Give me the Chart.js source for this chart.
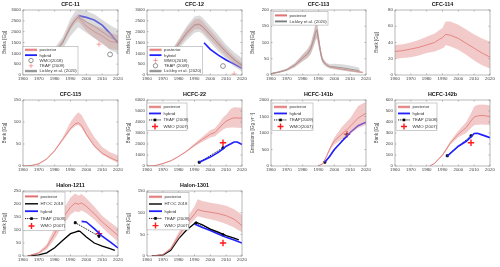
<!DOCTYPE html>
<html><head><meta charset="utf-8">
<script src="https://cdn.jsdelivr.net/npm/chart.js@4/dist/chart.umd.min.js"></script>
<style>html,body{margin:0;padding:0;background:#fff;width:500px;height:267px;overflow:hidden}canvas{position:absolute}</style>
</head><body>
<script>
// ---------------- DATA ----------------
const xTickStart = 1960, xTickEnd = 2020, xTickStep = 10;

// CFC-11
const cfc11Years = [1960,1965,1970,1975,1980,1985,1990,1993,1995,2000,2005,2010,2015,2020];
const cfc11Post  = [80,250,480,750,1050,1500,2250,2550,2650,2250,2000,1800,1550,1500];
const cfc11PostLo= [60,210,420,670,950,1380,2100,2400,2480,2030,1720,1450,1200,1150];
const cfc11PostHi= [100,290,540,830,1150,1620,2400,2700,2820,2480,2300,2150,1950,1850];
const cfc11Lick  = [80,240,470,740,1050,1480,2200,2550,2680,2450,2250,2000,1750,1550];
const cfc11LickLo= [50,180,380,600,850,1200,1800,2050,2200,1950,1700,1450,1150,1000];
const cfc11LickHi= [110,300,560,880,1250,1750,2600,2950,3000,2950,2800,2550,2300,2100];
const cfc11HybYears = [1995,2000,2005,2010,2015,2020];
const cfc11Hyb      = [2740,2660,2540,2300,1920,1490];
const cfc11WmoYear = [2015], cfc11Wmo = [950];
const cfc11TeapYear = [2008], cfc11Teap = [1420];

// CFC-12
const cfc12Years = [1960,1965,1970,1975,1980,1985,1990,1993,1995,2000,2005,2010,2015,2020];
const cfc12Post  = [60,220,520,950,1450,1950,2330,2350,2250,1850,1450,1050,700,420];
const cfc12PostLo= [40,180,450,850,1300,1750,2100,2120,2020,1630,1250,870,540,280];
const cfc12PostHi= [80,260,590,1050,1600,2150,2560,2600,2480,2070,1650,1230,860,560];
const cfc12Lick  = [60,210,500,920,1420,1920,2300,2330,2230,1850,1450,1060,720,450];
const cfc12LickLo= [30,150,400,780,1200,1600,1950,2000,1900,1500,1100,750,400,150];
const cfc12LickHi= [90,280,620,1080,1650,2250,2700,2750,2650,2250,1850,1400,1050,780];
const cfc12HybYears = [1996,2000,2005,2010,2015,2020];
const cfc12Hyb      = [1490,1185,920,690,510,310];
const cfc12WmoYear = [2015], cfc12Wmo = [45];
const cfc12TeapYear = [2008], cfc12Teap = [415];

// CFC-113
const cfc113Years = [1960,1965,1970,1975,1980,1983,1985,1987,1988,1989,1990,1991,1992,1993,1995,1997,2000,2005,2010,2015,2018];
const cfc113Post  = [4,9,16,30,52,64,78,108,128,138,110,80,55,43,32,25,22,18,14,10,8];
const cfc113PostLo= [3,7,13,25,43,53,65,90,107,115,92,68,47,37,28,22,19,15,11,8,6];
const cfc113PostHi= [5,11,19,36,62,77,93,128,152,160,130,95,65,50,37,29,26,21,17,13,10];
const cfc113LickYears = [1960,1965,1970,1975,1980,1983,1985,1987,1988,1989,1990,1991,1992,1993,1995,1997,2000,2005,2010,2015,2016];
const cfc113Lick  = [4,9,16,30,53,65,80,110,130,140,108,78,52,40,30,26,25,22,18,14,12];
const cfc113LickLo= [2,6,12,24,42,52,63,88,104,112,86,62,42,32,24,20,17,14,10,7,6];
const cfc113LickHi= [6,12,20,37,64,80,98,134,158,168,130,95,64,49,38,34,35,33,29,24,20];

// CFC-114
const cfc114Years = [1960,1965,1970,1975,1980,1985,1988,1990,1991,1992,1995,2000,2005,2010,2015,2020];
const cfc114Post  = [29,30,32,34,37,40,44,46,48,50,49,45,39,33,27,22];
const cfc114PostLo= [20,21,22,24,27,29,31,33,34,37,35,31,25,18,12,8];
const cfc114PostHi= [37,38,40,43,47,51,55,58,62,66,66,62,56,50,45,41];

// CFC-115
const cfc115Years = [1960,1965,1970,1975,1980,1985,1990,1993,1995,1997,2000,2005,2010,2015,2020];
const cfc115Post  = [0,1,5,16,35,60,85,96,98,92,72,46,29,19,11];
const cfc115PostLo= [0,1,4,15,33,57,81,91,93,87,68,43,26,16,7];
const cfc115PostHi= [0,1,6,17,37,64,100,115,122,116,96,66,43,31,24];

// HCFC-22
const hcfc22Years = [1960,1965,1970,1975,1980,1985,1990,1995,2000,2003,2005,2008,2010,2013,2015,2020];
const hcfc22Post  = [0,30,220,470,870,1340,1900,2420,2890,3050,3360,3820,4070,4290,4380,4350];
const hcfc22PostLo= [0,25,200,440,820,1270,1770,2200,2600,2700,2950,3300,3450,3500,3500,3450];
const hcfc22PostHi= [0,35,240,500,920,1410,2040,2650,3250,3450,3800,4400,4650,5200,5350,5300];
const hcfc22HybYears = [1993,1995,2000,2005,2008,2010,2013,2015,2017,2020];
const hcfc22Hyb      = [340,470,810,1240,1550,1800,2020,2180,2180,1960];
const hcfc22TeapYears = [1993,2008], hcfc22Teap = [340,1650];
const hcfc22WmoYear = [2008], hcfc22Wmo = [2110];

// HCFC-141b
const hcfc141bYears = [1990,1993,1995,1998,2000,2005,2008,2010,2015,2020];
const hcfc141bPost  = [0,80,290,600,760,980,1100,1200,1450,1600];
const hcfc141bPostLo= [0,70,260,540,650,820,920,980,1150,1250];
const hcfc141bPostHi= [0,90,320,660,860,1200,1350,1450,1820,1950];
const hcfc141bHybYears = [1994,1997,2000,2005,2008,2010,2015,2020];
const hcfc141bHyb      = [115,290,500,760,910,1015,1220,1330];
const hcfc141bTeapYears = [1994,2008], hcfc141bTeap = [115,960];
const hcfc141bWmoYear = [2008], hcfc141bWmo = [960];

// HCFC-142b
const hcfc142bYears = [1982,1985,1990,1993,1995,2000,2005,2008,2010,2012,2015,2020];
const hcfc142bPost  = [0,25,100,165,210,290,350,410,445,455,460,450];
const hcfc142bPostLo= [0,22,92,150,195,262,300,345,370,375,378,372];
const hcfc142bPostHi= [0,28,108,180,228,320,400,480,540,555,558,552];
const hcfc142bHybYears = [1993,2000,2005,2008,2010,2012,2015,2020];
const hcfc142bHyb      = [90,180,225,265,295,298,283,258];
const hcfc142bTeapYears = [1993,2008], hcfc142bTeap = [93,274];
const hcfc142bWmoYear = [2008], hcfc142bWmo = [211];

// Halon-1211
const h1211Years = [1963,1970,1975,1980,1985,1990,1993,1995,1997,2000,2005,2010,2015,2020];
const h1211Post  = [0,12,35,86,144,188,204,199,204,191,163,131,105,79];
const h1211PostLo= [0,8,25,65,115,160,172,168,175,165,140,110,82,55];
const h1211PostHi= [0,16,45,110,175,225,240,232,238,222,190,155,130,108];
const h1211HtocYears = [1963,1970,1975,1980,1985,1990,1993,1995,1996,2000,2005,2010,2015,2018];
const h1211Htoc      = [0,4,12,32,60,86,92,96,95,73,50,38,28,22];
const h1211HybYears = [1997,2000,2005,2008,2010,2015,2020];
const h1211Hyb      = [133,131,105,88,76,54,31];
const h1211TeapYears = [1993,2008], h1211Teap = [128,76];
const h1211WmoYear = [2008], h1211Wmo = [86];

// Halon-1301
const h1301Years = [1963,1970,1975,1980,1985,1990,1992,1995,2000,2005,2010,2015,2020];
const h1301Post  = [0,3,17,47,74,97,107,104,101,98,93,85,70];
const h1301PostLo= [0,2,14,40,66,84,92,89,85,80,74,66,55];
const h1301PostHi= [0,4,21,55,86,115,131,127,123,120,116,108,95];
const h1301HtocYears = [1963,1970,1975,1980,1985,1990,1991,1993,1995,2000,2005,2010,2015,2018];
const h1301Htoc      = [0,2,13,40,60,75,78,75,72,62,55,47,41,37];
const h1301HybYears = [1990,1995,2000,2005,2010,2015,2020];
const h1301Hyb      = [74,66,59,51,43,37,30];
const h1301TeapYears = [1991,2008], h1301Teap = [76,49];
const h1301WmoYear = [2008], h1301Wmo = [30];

// ---------------- STYLE / HELPERS ----------------
const FONT = "'Liberation Sans', Arial, Helvetica, sans-serif";
const PINK_BAND = 'rgba(232,150,150,0.5)';
const GRAY_BAND = 'rgba(175,175,175,0.45)';
const POST_COL = '#d9534f', LICK_COL = '#555555', HYB_COL = '#1f1fff';

const xy = (xs, ys) => xs.map((x, i) => ({x, y: ys[i]}));
function band(xs, lo, hi, color){
  return [
    {data: xy(xs, lo), borderWidth: 0, pointRadius: 0, fill: false, borderColor: 'rgba(0,0,0,0)'},
    {data: xy(xs, hi), borderWidth: 0, pointRadius: 0, fill: '-1', backgroundColor: color, borderColor: 'rgba(0,0,0,0)'}
  ];
}
const line = (xs, ys, color, w, extra) => Object.assign({data: xy(xs, ys), borderColor: color, borderWidth: w, pointRadius: 0, fill: false, tension: 0}, extra || {});
const teap = (xs, ys) => ({data: xy(xs, ys), borderColor: '#000', borderWidth: 0.9, borderDash: [1.2, 0.9], pointStyle: 'rect', pointRadius: 1.4, pointBackgroundColor: '#000', pointBorderColor: '#000', fill: false});
const plusRed = (xs, ys) => ({data: xy(xs, ys), showLine: false, pointStyle: 'cross', pointRadius: 3.2, pointBorderWidth: 1.4, pointBorderColor: '#ff1a1a'});
const plusPink = (xs, ys) => ({data: xy(xs, ys), showLine: false, pointStyle: 'cross', pointRadius: 2.6, pointBorderWidth: 0.7, pointBorderColor: '#f08080'});
const circ = (xs, ys) => ({data: xy(xs, ys), showLine: false, pointStyle: 'circle', pointRadius: 2.4, pointBorderWidth: 0.7, pointBorderColor: '#666', pointBackgroundColor: 'rgba(0,0,0,0)'});

function drawSample(ctx, s, sx, ex, cy){
  const mx = (sx + ex) / 2;
  ctx.save();
  ctx.setLineDash([]);
  const seg = (c, w, dash) => { ctx.beginPath(); ctx.strokeStyle = c; ctx.lineWidth = w; ctx.setLineDash(dash || []); ctx.moveTo(sx, cy); ctx.lineTo(ex, cy); ctx.stroke(); ctx.setLineDash([]); };
  const plus = (c, r, w) => { ctx.beginPath(); ctx.strokeStyle = c; ctx.lineWidth = w; ctx.moveTo(mx - r, cy); ctx.lineTo(mx + r, cy); ctx.moveTo(mx, cy - r); ctx.lineTo(mx, cy + r); ctx.stroke(); };
  if (s === 'post') { seg('rgba(232,150,150,0.8)', 2.6); seg(POST_COL, 0.7); }
  else if (s === 'lick') { seg('rgba(175,175,175,0.8)', 2.6); seg(LICK_COL, 0.7); }
  else if (s === 'hyb') seg(HYB_COL, 1.8);
  else if (s === 'htoc') seg('#000', 1.4);
  else if (s === 'teap') { seg('#000', 0.9, [1.2, 0.9]); ctx.fillStyle = '#000'; ctx.fillRect(mx - 1.3, cy - 1.3, 2.6, 2.6); }
  else if (s === 'plusRed') plus('#ff1a1a', 3, 1.4);
  else if (s === 'plusPink') plus('#f08080', 2.3, 0.7);
  else if (s === 'circ') { ctx.beginPath(); ctx.strokeStyle = '#666'; ctx.lineWidth = 0.7; ctx.arc(mx, cy, 2.2, 0, Math.PI * 2); ctx.stroke(); }
  ctx.restore();
}

const boxPlugin = {
  id: 'boxPlugin',
  afterDatasetsDraw(chart){
    const {ctx, chartArea: a, scales} = chart;
    ctx.save();
    ctx.strokeStyle = '#8a8a8a'; ctx.lineWidth = 0.6;
    ctx.strokeRect(a.left, a.top, a.right - a.left, a.bottom - a.top);
    ctx.beginPath();
    scales.x.ticks.forEach(t => { const px = scales.x.getPixelForValue(t.value); ctx.moveTo(px, a.bottom); ctx.lineTo(px, a.bottom - 1.5); ctx.moveTo(px, a.top); ctx.lineTo(px, a.top + 1.5); });
    scales.y.ticks.forEach(t => { const py = scales.y.getPixelForValue(t.value); ctx.moveTo(a.left, py); ctx.lineTo(a.left + 1.5, py); ctx.moveTo(a.right, py); ctx.lineTo(a.right - 1.5, py); });
    ctx.stroke();
    ctx.restore();
  }
};
const legendPlugin = {
  id: 'inLegend',
  afterDraw(chart, args, L){
    if (!L || !L.items) return;
    const ctx = chart.ctx, a = chart.chartArea;
    const x0 = a.left + L.x, y0 = a.top + L.y, h = L.items.length * L.rowH + 1.4;
    ctx.save();
    ctx.fillStyle = '#fff'; ctx.fillRect(x0, y0, L.w, h);
    ctx.strokeStyle = '#9a9a9a'; ctx.lineWidth = 0.5; ctx.strokeRect(x0, y0, L.w, h);
    ctx.font = (L.size || 4.3) + 'px ' + FONT; ctx.textBaseline = 'middle';
    L.items.forEach((it, i) => {
      const cy = y0 + 0.7 + L.rowH * (i + 0.5);
      const sx = x0 + 2, ex = x0 + 2 + (L.sl || 12);
      drawSample(ctx, it.s, sx, ex, cy);
      ctx.fillStyle = '#333'; ctx.fillText(it.t, ex + (L.gap || 2.5), cy + 0.2);
    });
    ctx.restore();
  }
};

// ---------------- PANELS ----------------
const YW = 22, RP = 8, TH = 10, XH = 9;
const COLS = [23, 147, 271, 395], ROWS = [10, 100, 191], PW = 95, PHS = [65, 66, 65];

const panels = [
  {row:0, col:0, title:'CFC-11', ylabel:'Banks [Gg]', yMax:3000, yStep:500,
   datasets:[...band(cfc11Years, cfc11LickLo, cfc11LickHi, GRAY_BAND), ...band(cfc11Years, cfc11PostLo, cfc11PostHi, PINK_BAND),
     line(cfc11Years, cfc11Lick, LICK_COL, 0.7), line(cfc11Years, cfc11Post, POST_COL, 0.8), line(cfc11HybYears, cfc11Hyb, HYB_COL, 1.6),
     circ(cfc11WmoYear, cfc11Wmo), plusPink(cfc11TeapYear, cfc11Teap)],
   legend:{x:0, y:36.5, w:55, rowH:5.3, items:[{t:'posterior',s:'post'},{t:'hybrid',s:'hyb'},{t:'WMO(2018)',s:'circ'},{t:'TEAP (2009)',s:'plusPink'},{t:'Lickley et al. (2020)',s:'lick'}]}},
  {row:0, col:1, title:'CFC-12', ylabel:'Banks [Gg]', yMax:3000, yStep:500,
   datasets:[...band(cfc12Years, cfc12LickLo, cfc12LickHi, GRAY_BAND), ...band(cfc12Years, cfc12PostLo, cfc12PostHi, PINK_BAND),
     line(cfc12Years, cfc12Lick, LICK_COL, 0.7), line(cfc12Years, cfc12Post, POST_COL, 0.8), line(cfc12HybYears, cfc12Hyb, HYB_COL, 1.6),
     plusPink(cfc12WmoYear, cfc12Wmo), circ(cfc12TeapYear, cfc12Teap)],
   legend:{x:0.5, y:36.5, w:55, rowH:5.3, items:[{t:'posterior',s:'post'},{t:'hybrid',s:'hyb'},{t:'WMO(2018)',s:'plusPink'},{t:'TEAP (2009)',s:'circ'},{t:'Lickley et al. (2020)',s:'lick'}]}},
  {row:0, col:2, title:'CFC-113', ylabel:'Banks [Gg]', yMax:200, yStep:50,
   datasets:[...band(cfc113LickYears, cfc113LickLo, cfc113LickHi, GRAY_BAND), ...band(cfc113Years, cfc113PostLo, cfc113PostHi, PINK_BAND),
     line(cfc113LickYears, cfc113Lick, LICK_COL, 0.7), line(cfc113Years, cfc113Post, POST_COL, 0.8)],
   legend:{x:2, y:1.7, w:55, rowH:6, items:[{t:'posterior',s:'post'},{t:'Lickley et al. (2020)',s:'lick'}]}},
  {row:0, col:3, title:'CFC-114', ylabel:'Bank [Gg]', yMax:80, yStep:20,
   datasets:[...band(cfc114Years, cfc114PostLo, cfc114PostHi, PINK_BAND), line(cfc114Years, cfc114Post, POST_COL, 0.8)]},
  {row:1, col:0, title:'CFC-115', ylabel:'Bank [Gg]', yMax:150, yStep:50,
   datasets:[...band(cfc115Years, cfc115PostLo, cfc115PostHi, PINK_BAND), line(cfc115Years, cfc115Post, POST_COL, 0.8)]},
  {row:1, col:1, title:'HCFC-22', ylabel:'Bank [Gg]', yMax:6000, yStep:1000,
   datasets:[...band(hcfc22Years, hcfc22PostLo, hcfc22PostHi, PINK_BAND), line(hcfc22Years, hcfc22Post, POST_COL, 0.8),
     line(hcfc22HybYears, hcfc22Hyb, HYB_COL, 1.6), teap(hcfc22TeapYears, hcfc22Teap), plusRed(hcfc22WmoYear, hcfc22Wmo)],
   legend:{x:0, y:3, w:40, rowH:6.5, sl:12, items:[{t:'posterior',s:'post'},{t:'hybrid',s:'hyb'},{t:'TEAP (2009)',s:'teap'},{t:'WMO (2007)',s:'plusRed'}]}},
  {row:1, col:2, title:'HCFC-141b', ylabel:'Emissions [Gg yr\u207B\u00B9]', yMax:2000, yStep:500,
   datasets:[...band(hcfc141bYears, hcfc141bPostLo, hcfc141bPostHi, PINK_BAND), line(hcfc141bYears, hcfc141bPost, POST_COL, 0.8),
     line(hcfc141bHybYears, hcfc141bHyb, HYB_COL, 1.6), teap(hcfc141bTeapYears, hcfc141bTeap), plusRed(hcfc141bWmoYear, hcfc141bWmo)],
   legend:{x:1, y:3, w:41, rowH:6.5, sl:13, items:[{t:'posterior',s:'post'},{t:'hybrid',s:'hyb'},{t:'TEAP(2009)',s:'teap'},{t:'WMO(2007)',s:'plusRed'}]}},
  {row:1, col:3, title:'HCFC-142b', ylabel:'Bank [Gg]', yMax:600, yStep:100,
   datasets:[...band(hcfc142bYears, hcfc142bPostLo, hcfc142bPostHi, PINK_BAND), line(hcfc142bYears, hcfc142bPost, POST_COL, 0.8),
     line(hcfc142bHybYears, hcfc142bHyb, HYB_COL, 1.6), teap(hcfc142bTeapYears, hcfc142bTeap), plusRed(hcfc142bWmoYear, hcfc142bWmo)],
   legend:{x:1, y:3, w:41, rowH:6.5, sl:12, items:[{t:'posterior',s:'post'},{t:'hybrid',s:'hyb'},{t:'TEAP (2008)',s:'teap'},{t:'WMO (2007)',s:'plusRed'}]}},
  {row:2, col:0, title:'Halon-1211', ylabel:'Bank [Gg]', yMax:250, yStep:50,
   datasets:[...band(h1211Years, h1211PostLo, h1211PostHi, PINK_BAND), line(h1211Years, h1211Post, POST_COL, 0.8),
     line(h1211HtocYears, h1211Htoc, '#000', 1.3), line(h1211HybYears, h1211Hyb, HYB_COL, 1.6), teap(h1211TeapYears, h1211Teap), plusRed(h1211WmoYear, h1211Wmo)],
   legend:{x:0, y:1, w:42, rowH:7.4, sl:13, items:[{t:'posterior',s:'post'},{t:'HTOC 2018',s:'htoc'},{t:'hybrid',s:'hyb'},{t:'TEAP (2009)',s:'teap'},{t:'WMO (2007)',s:'plusRed'}]}},
  {row:2, col:1, title:'Halon-1301', ylabel:'Bank [Gg]', yMax:150, yStep:50,
   datasets:[...band(h1301Years, h1301PostLo, h1301PostHi, PINK_BAND), line(h1301Years, h1301Post, POST_COL, 0.8),
     line(h1301HtocYears, h1301Htoc, '#000', 1.3), line(h1301HybYears, h1301Hyb, HYB_COL, 1.6), teap(h1301TeapYears, h1301Teap), plusRed(h1301WmoYear, h1301Wmo)],
   legend:{x:0, y:1.5, w:42, rowH:7.2, sl:13, items:[{t:'posterior',s:'post'},{t:'HTOC 2018',s:'htoc'},{t:'hybrid',s:'hyb'},{t:'TEAP (2009)',s:'teap'},{t:'WMO (2007)',s:'plusRed'}]}}
];

function makePanel(p){
  const c = document.createElement('canvas');
  const left = COLS[p.col] - YW, top = ROWS[p.row] - TH, w = YW + PW + RP, h = TH + PHS[p.row] + XH;
  c.width = w; c.height = h;
  c.style.left = left + 'px'; c.style.top = top + 'px'; c.style.width = w + 'px'; c.style.height = h + 'px';
  document.body.appendChild(c);
  const tickFont = {size: 4.4, family: FONT};
  new Chart(c, {
    type: 'line',
    data: {datasets: p.datasets.map(d => Object.assign({tension: 0}, d))},
    options: {
      responsive: false, animation: false, devicePixelRatio: 1,
      layout: {padding: {left: 0, right: RP, top: 0, bottom: 0}},
      plugins: {
        legend: {display: false}, tooltip: {enabled: false},
        title: {display: true, text: p.title, fullSize: false, color: '#111', font: {size: 5.4, weight: 'bold', family: FONT, lineHeight: 1}, padding: {top: 2.3, bottom: 2.3}},
        inLegend: p.legend || {}
      },
      scales: {
        x: {type: 'linear', min: xTickStart, max: xTickEnd,
            ticks: {stepSize: xTickStep, callback: v => String(v), font: tickFont, color: '#444', padding: 1.5, maxRotation: 0, autoSkip: false},
            grid: {display: false, drawTicks: false}, border: {display: false},
            afterFit: s => { s.height = XH; }},
        y: {type: 'linear', min: 0, max: p.yMax,
            ticks: {stepSize: p.yStep, callback: v => String(v), font: tickFont, color: '#444', padding: 2},
            grid: {display: false, drawTicks: false}, border: {display: false},
            title: {display: true, text: p.ylabel, color: '#444', font: {size: 4.7, family: FONT}, padding: {top: 1, bottom: 0}},
            afterFit: s => { s.width = YW; }}
      }
    },
    plugins: [boxPlugin, legendPlugin]
  });
}
panels.forEach(makePanel);
</script>
</body></html>
